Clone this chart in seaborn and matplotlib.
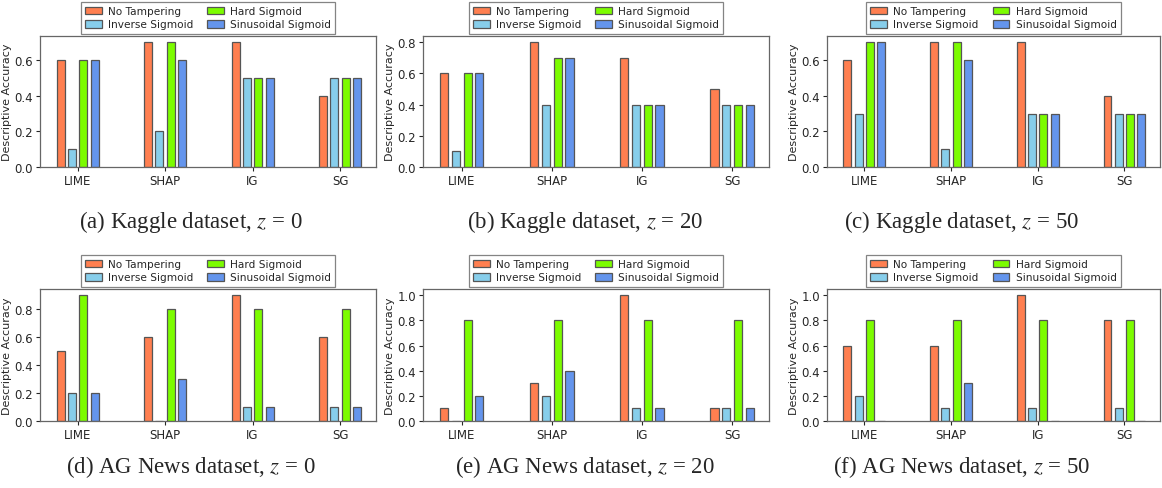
import pandas as pd
import matplotlib
matplotlib.use("Agg")
import matplotlib.pyplot as plt
from matplotlib.ticker import MultipleLocator, FormatStrFormatter
import seaborn as sns

# --- DATA ---
methods = ["LIME", "SHAP", "IG", "SG"]
variants = ["No Tampering", "Inverse Sigmoid", "Hard Sigmoid", "Sinusoidal Sigmoid"]
colors = ["#FF7F50", "#87CEEB", "#7CFC00", "#6495ED"]

# Kaggle dataset
kaggle_z0 = [[0.6, 0.7, 0.7, 0.4], [0.1, 0.2, 0.5, 0.5], [0.6, 0.7, 0.5, 0.5], [0.6, 0.6, 0.5, 0.5]]
kaggle_z20 = [[0.6, 0.8, 0.7, 0.5], [0.1, 0.4, 0.4, 0.4], [0.6, 0.7, 0.4, 0.4], [0.6, 0.7, 0.4, 0.4]]
kaggle_z50 = [[0.6, 0.7, 0.7, 0.4], [0.3, 0.1, 0.3, 0.3], [0.7, 0.7, 0.3, 0.3], [0.7, 0.6, 0.3, 0.3]]
# AG News dataset
agnews_z0 = [[0.5, 0.6, 0.9, 0.6], [0.2, 0.0, 0.1, 0.1], [0.9, 0.8, 0.8, 0.8], [0.2, 0.3, 0.1, 0.1]]
agnews_z20 = [[0.1, 0.3, 1.0, 0.1], [0.0, 0.2, 0.1, 0.1], [0.8, 0.8, 0.8, 0.8], [0.2, 0.4, 0.1, 0.1]]
agnews_z50 = [[0.6, 0.6, 1.0, 0.8], [0.2, 0.1, 0.1, 0.1], [0.8, 0.8, 0.8, 0.8], [0.0, 0.3, 0.0, 0.0]]

panels = [
    (kaggle_z0, "(a) Kaggle dataset, $z$ = 0"),
    (kaggle_z20, "(b) Kaggle dataset, $z$ = 20"),
    (kaggle_z50, "(c) Kaggle dataset, $z$ = 50"),
    (agnews_z0, "(d) AG News dataset, $z$ = 0"),
    (agnews_z20, "(e) AG News dataset, $z$ = 20"),
    (agnews_z50, "(f) AG News dataset, $z$ = 50"),
]

# --- STYLE ---
sns.set_theme(style="ticks")
plt.rcParams["font.family"] = ["DejaVu Sans"]
plt.rcParams["mathtext.fontset"] = "stix"
plt.rcParams["axes.edgecolor"] = "#666666"
plt.rcParams["axes.linewidth"] = 0.9

W, H = 1162, 489
fig = plt.figure(figsize=(W / 100, H / 100), dpi=100)

# axes boxes in pixels: (left, right) / (top, bottom)
col_x = [(40, 376), (423, 769), (827, 1160)]
row_y = [(37, 168), (290, 422)]
cap_y = [222, 467]
cap_x = [191, 585, 962]

pal = dict(zip(variants, colors))

for i, (vals, caption) in enumerate(panels):
    r, c = divmod(i, 3)
    x0, x1 = col_x[c]
    y0, y1 = row_y[r]
    ax = fig.add_axes([x0 / W, 1 - y1 / H, (x1 - x0) / W, (y1 - y0) / H])

    rows = []
    for v, series in zip(variants, vals):
        for m, val in zip(methods, series):
            rows.append({"method": m, "variant": v, "acc": val})
    df = pd.DataFrame(rows)

    sns.barplot(data=df, x="method", y="acc", hue="variant", hue_order=variants,
                palette=pal, width=0.52, gap=0.3, edgecolor="#555555",
                linewidth=0.9, saturation=1, ax=ax)

    ax.set_xlabel("")
    ax.set_ylabel("Descriptive Accuracy", fontsize=8, labelpad=2)
    ax.yaxis.set_major_locator(MultipleLocator(0.2))
    ax.yaxis.set_major_formatter(FormatStrFormatter("%.1f"))
    ax.tick_params(axis="both", labelsize=8.5, length=3, width=0.8, pad=2)
    ax.set_xlim(-0.43, 3.41)

    leg = ax.legend(ncol=2, loc="lower center", bbox_to_anchor=(0.5, 1.01),
                    fontsize=7.6, frameon=True, fancybox=False, edgecolor="#666666",
                    borderpad=0.4, labelspacing=0.3, columnspacing=1.3,
                    handlelength=1.6, handleheight=0.75, handletextpad=0.6,
                    borderaxespad=0.1)
    leg.get_frame().set_linewidth(0.9)

    fig.text(cap_x[c] / W, 1 - cap_y[r] / H, caption, ha="center", va="center",
             fontsize=16.5, family="Liberation Serif")

fig.savefig("out.png", dpi=100)
